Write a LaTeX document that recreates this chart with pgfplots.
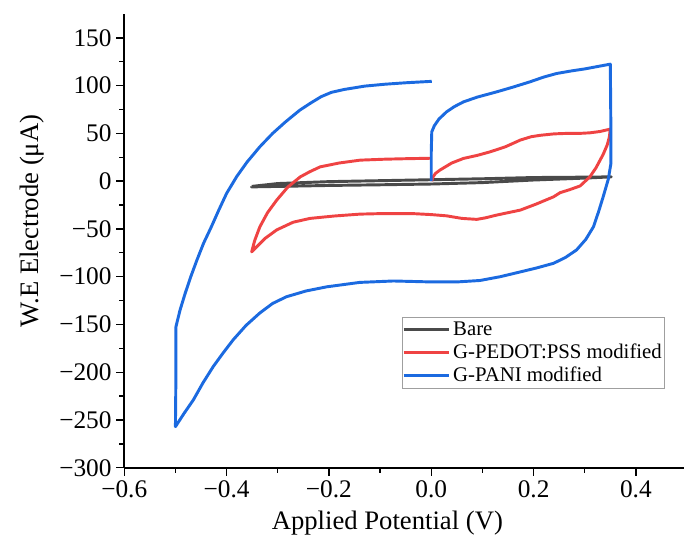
\documentclass[border=0pt]{standalone}
\usepackage{fontspec}
\setmainfont{Liberation Serif}
\usepackage{pgfplots}
\pgfplotsset{compat=1.18}
\definecolor{bare}{HTML}{4A4A4A}
\definecolor{ped}{HTML}{EF4343}
\definecolor{pani}{HTML}{1B6AE0}
\begin{document}
\begin{tikzpicture}
\useasboundingbox (-93.2pt,-60.2pt) rectangle (419.8pt,350.8pt);
\begin{axis}[
  at={(0,0)}, anchor=south west,
  scale only axis, width=419.8pt, height=340.3pt,
  xmin=-0.6, xmax=0.494, ymin=-300, ymax=175,
  axis lines=left, axis line style={-, line width=1.2pt, black},
  tick align=outside, major tick length=6pt, minor tick length=3.75pt,
  tick style={line width=1pt, black},
  xtick={-0.6,-0.4,-0.2,0,0.2,0.4},
  xticklabels={−0.6,−0.4,−0.2,0.0,0.2,0.4},
  ytick={-300,-250,-200,-150,-100,-50,0,50,100,150},
  yticklabels={−300,−250,−200,−150,−100,−50,0,50,100,150},
  minor x tick num=1, minor y tick num=1,
  ticklabel style={font=\fontsize{19}{22}\selectfont},
  xlabel={Applied Potential (V)}, ylabel={W.E Electrode (μA)},
  label style={font=\fontsize{20}{24}\selectfont},
  xlabel style={at={(axis description cs:0.470,-0.123)}, anchor=center},
  ylabel style={at={(axis description cs:-0.1654,0.544)}, anchor=center},
  legend style={at={(0.4956,0.3328)}, anchor=north west, draw=gray!75, line width=0.8pt,
    font=\fontsize{15.6}{17.5}\selectfont, inner xsep=0pt, inner ysep=1.2pt, row sep=1pt},
  legend cell align=left,
  legend image code/.code={\draw[#1] (0pt,0pt) -- (34pt,0pt);},
  every axis plot/.append style={line width=2.2pt, line join=round},
]
\addplot[bare] coordinates {
(-0.351,-5.5) (-0.30,-2.5) (-0.20,-0.5) (-0.10,0.5) (0.00,1.5) (0.10,2.5) (0.20,3.8) (0.30,4.2) (0.352,4.5)
(0.30,3.2) (0.20,1.2) (0.10,-1.5) (0.00,-3) (-0.10,-3.8) (-0.20,-4.5) (-0.30,-5.5) (-0.351,-6) (-0.351,-5.5)
};
\addlegendentry{Bare}
\addplot[ped] coordinates {
(0.001,0) (0.003,4) (0.008,8) (0.017,11.6) (0.040,19) (0.063,23.8) (0.09,27) (0.115,30.7) (0.145,36)
(0.174,43) (0.195,46.5) (0.213,48) (0.24,49.5) (0.265,50) (0.29,50) (0.310,50.6) (0.330,52) (0.350,54.5)
(0.348,46) (0.344,38) (0.336,28) (0.322,14) (0.310,4.5) (0.291,-5) (0.27,-9) (0.252,-12) (0.239,-16.4)
(0.205,-24) (0.174,-30.3) (0.150,-33) (0.128,-35.5) (0.105,-38.5) (0.089,-40) (0.06,-39) (0.03,-36.3)
(0.000,-35) (-0.035,-34) (-0.100,-34) (-0.139,-34.5) (-0.19,-36.5) (-0.237,-39) (-0.27,-43) (-0.302,-51)
(-0.325,-60) (-0.351,-74) (-0.345,-62) (-0.335,-47.8) (-0.320,-33) (-0.302,-19.8) (-0.28,-6) (-0.256,4.5)
(-0.237,10) (-0.217,15) (-0.18,19) (-0.139,22) (-0.09,23) (-0.05,23.5) (0.001,24)
};
\addlegendentry{G-PEDOT:PSS modified}
\addplot[pani] coordinates {
(0.000,0) (0.000,30) (0.001,51.6) (0.006,58) (0.015,65) (0.030,72.6) (0.045,78) (0.063,83) (0.09,88)
(0.128,93.5) (0.16,98.5) (0.193,104) (0.22,109) (0.245,112.7) (0.275,115.5) (0.300,117.5) (0.325,120)
(0.350,122.5) (0.351,60) (0.351,18) (0.346,2) (0.336,-16.4) (0.327,-32) (0.317,-47.8) (0.302,-61)
(0.284,-72) (0.262,-80) (0.239,-86) (0.205,-91) (0.174,-95) (0.135,-100) (0.095,-104) (0.05,-105.5)
(0.000,-105.5) (-0.074,-104.5) (-0.14,-106) (-0.204,-110.6) (-0.245,-115) (-0.283,-121) (-0.31,-128)
(-0.335,-138) (-0.362,-151) (-0.387,-166) (-0.407,-180) (-0.426,-194) (-0.446,-211) (-0.465,-229)
(-0.483,-243) (-0.500,-257) (-0.499,-200) (-0.499,-152.4) (-0.491,-135) (-0.481,-117.5) (-0.470,-100)
(-0.458,-82.6) (-0.445,-65) (-0.430,-48) (-0.415,-30) (-0.400,-12.8) (-0.380,5) (-0.360,20) (-0.335,36)
(-0.31,50) (-0.285,62) (-0.257,74.3) (-0.235,82) (-0.215,88.5) (-0.195,93) (-0.17,96) (-0.13,99.5) (-0.09,101.5)
(-0.05,103) (0.001,104.5)
};
\addlegendentry{G-PANI modified}
\end{axis}
\end{tikzpicture}
\end{document}
